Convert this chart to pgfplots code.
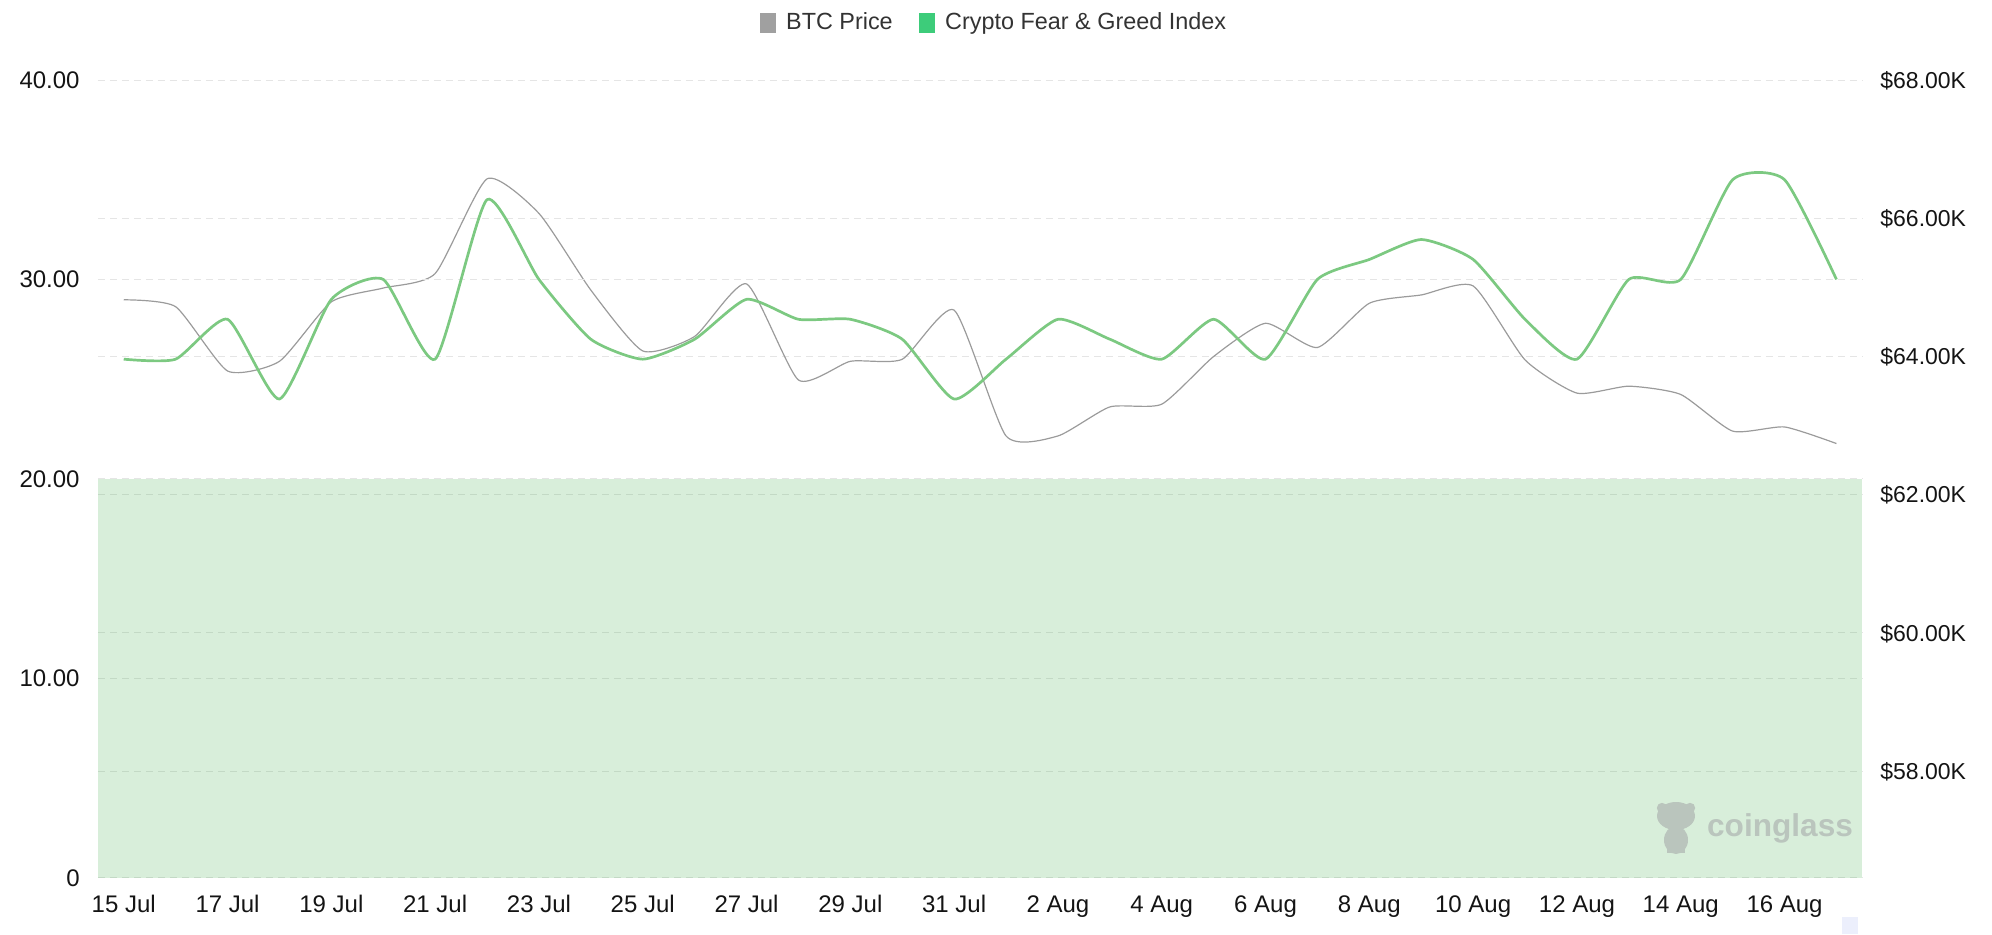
\documentclass[border=0pt]{standalone}
\usepackage{pgfplots}
\pgfplotsset{compat=1.18}
\usepackage{pgfplotstable}
\usepackage{fontspec}
\setmainfont{Liberation Sans}
\definecolor{gridc}{RGB}{229,229,229}
\definecolor{btcgray}{RGB}{155,155,155}
\definecolor{btclegend}{RGB}{160,160,160}
\definecolor{fgline}{RGB}{124,201,129}
\definecolor{fglegend}{RGB}{61,204,122}
\definecolor{bandc}{RGB}{60,170,70}
\definecolor{labc}{RGB}{20,20,20}
\definecolor{legtext}{RGB}{51,51,51}
\definecolor{wm}{RGB}{186,197,189}
\definecolor{lav}{RGB}{236,239,252}

\pgfplotstableread{
day fg btc
0 26 64.82
1 26 64.72
2 28 63.79
3 24 63.93
4 29 64.79
5 30 64.99
6 26 65.20
7 34 66.57
8 30 66.07
9 27 64.96
10 26 64.08
11 27 64.29
12 29 65.05
13 28 63.66
14 28 63.93
15 27 63.96
16 24 64.67
17 26 62.85
18 28 62.85
19 27 63.27
20 26 63.31
21 28 64.00
22 26 64.48
23 30 64.13
24 31 64.77
25 32 64.89
26 31 65.02
27 28 63.95
28 26 63.47
29 30 63.57
30 30 63.45
31 35 62.92
32 35 62.98
33 30 62.74
}\datatable

\pgfplotsset{
  legbtc/.style={legend image code/.code={\fill[btclegend] (0pt,-4.6pt) rectangle (7.6pt,4.6pt); \path[draw=none,fill=none] (0pt,0pt) rectangle (11pt,0.1pt);}},
  legfg/.style={legend image code/.code={\fill[fglegend] (0pt,-4.6pt) rectangle (7.6pt,4.6pt); \path[draw=none,fill=none] (0pt,0pt) rectangle (11pt,0.1pt);}},
  common/.style={
    scale only axis, width=882.3pt, height=398.8pt,
    at={(48.9pt,28.2pt)}, anchor=south west,
    xmin=-0.5, xmax=33.5,
    axis line style={draw=none},
    major tick length=0pt,
    ymajorgrids,
    major grid style={gridc, line width=0.5pt, dash pattern=on 3.5pt off 2.5pt},
    tick label style={font=\fontsize{12}{14}\selectfont, text=labc},
  }
}

\begin{document}
\begin{tikzpicture}[x=1pt,y=1pt]
\useasboundingbox (0,0) rectangle (996,467);

% Right axis: BTC price
\begin{axis}[common,
  ymin=56.46, ymax=68,
  xtick=\empty,
  ytick={58,60,62,64,66,68},
  yticklabels={\$58.00K,\$60.00K,\$62.00K,\$64.00K,\$66.00K,\$68.00K},
  yticklabel pos=right,
  yticklabel style={anchor=base west, xshift=8.8pt, yshift=-4.1pt, inner sep=0pt, font=\fontsize{11.5}{14}\selectfont},
]
\addplot[btcgray, line width=0.6pt, smooth, tension=0.35] table[x=day,y=btc]{\datatable};
\end{axis}

% Left axis: Fear & Greed
\begin{axis}[common,
  ymin=0, ymax=40,
  ytick={0,10,20,30,40},
  yticklabels={0,10.00,20.00,30.00,40.00},
  yticklabel style={anchor=base east, xshift=-8.9pt, yshift=-4.2pt, inner sep=0pt},
  xtick={0,2,...,32},
  xticklabels={15 Jul,17 Jul,19 Jul,21 Jul,23 Jul,25 Jul,27 Jul,29 Jul,31 Jul,2 Aug,4 Aug,6 Aug,8 Aug,10 Aug,12 Aug,14 Aug,16 Aug},
  xticklabel style={anchor=base, yshift=-17.5pt, inner sep=0pt},
  legend style={at={(axis description cs:0.5084,1.0715)}, anchor=center, draw=none, fill=none,
    font=\fontsize{11.7}{14}\selectfont, text=legtext, inner sep=0pt,
    /tikz/every even column/.append style={column sep=11pt}},
  legend columns=2,
  legend cell align=left,
]
\addlegendimage{legbtc}
\addlegendentry{BTC Price}
\addlegendimage{legfg}
\addlegendentry{Crypto Fear \& Greed Index}
\addplot[draw=none, fill=bandc, fill opacity=0.2, forget plot] coordinates {(-0.5,20) (33.5,20)} \closedcycle;
\addplot[fgline, line width=1.35pt, smooth, tension=0.35, forget plot] table[x=day,y=fg]{\datatable};
\end{axis}

% watermark
\fill[wm] (838,59) ellipse (9.5pt and 7pt);
\fill[wm] (831,63) circle (2.6pt);
\fill[wm] (845,63) circle (2.6pt);
\fill[wm] (838,47) ellipse (6pt and 7pt);
\fill[wm] (833.5,40.5) rectangle (837,44);
\fill[wm] (839,40.5) rectangle (842.5,44);
\node[font=\bfseries\fontsize{15.8}{16}\selectfont, text=wm, anchor=center] at (890,53) {coinglass};
\fill[lav] (921,0) rectangle (929,8.5);
\end{tikzpicture}
\end{document}
